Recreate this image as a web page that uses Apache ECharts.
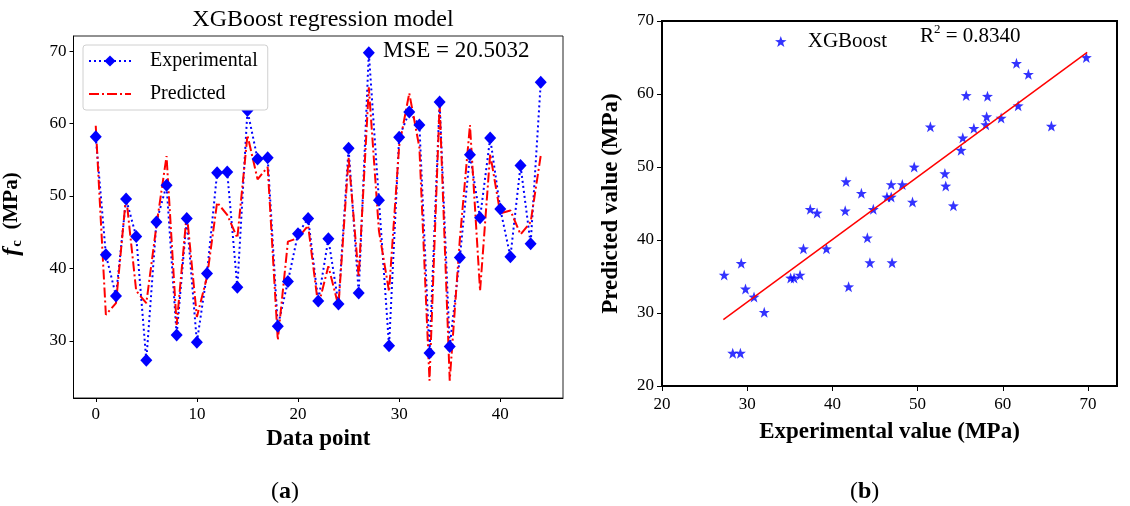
<!DOCTYPE html>
<html>
<head>
<meta charset="utf-8">
<script src="https://cdn.jsdelivr.net/npm/echarts@6/dist/echarts.min.js"></script>
<style>
	html, body { margin: 0; padding: 0; background: #fff; }
	#chart { width: 1130px; height: 506px; }
</style>
</head>
<body>
<div id="chart"></div>
<script>
// (a) 实测值 / 预测值，按数据点序号
var experimental = [58.2, 41.9, 36.2, 49.6, 44.4, 27.3, 46.4, 51.5, 30.8, 46.9,
	29.8, 39.3, 53.2, 53.3, 37.4, 61.8, 55.1, 55.3, 32.0, 38.2,
	44.8, 46.9, 35.5, 44.1, 35.1, 56.6, 36.6, 69.8, 49.4, 29.3,
	58.1, 61.6, 59.8, 28.3, 63.0, 29.2, 41.5, 55.7, 47.0, 58.0,
	48.2, 41.6, 54.2, 43.4, 65.7]
var predicted = [59.7, 33.6, 35.2, 50.0, 36.9, 35.2, 45.9, 55.5, 32.2, 47.6,
	33.3, 38.8, 49.1, 47.4, 44.2, 58.4, 52.3, 54.0, 30.1, 43.7,
	44.2, 45.9, 34.8, 40.3, 34.8, 55.3, 38.8, 65.0, 45.2, 36.8,
	56.9, 64.2, 56.7, 24.5, 62.7, 24.5, 44.0, 59.8, 36.9, 55.8,
	47.6, 48.0, 44.7, 46.4, 55.6]

// 刻度
var aTicksX = [0, 10, 20, 30, 40]
var aTicksY = [30, 40, 50, 60, 70]
var bTicks  = [20, 30, 40, 50, 60, 70]

// (b) 拟合直线端点
var fitLine = [[27.2, 29.1], [69.9, 65.7]]

var serif = 'Liberation Serif'
var star = 'path://M0,-10 L2.35,-3.24 L9.51,-3.09 L3.8,1.24 L5.88,8.09 L0,4 L-5.88,8.09 L-3.8,1.24 L-9.51,-3.09 L-2.35,-3.24 Z'

var expData  = experimental.map(function(v, i) { return [i, v] })
var predData = predicted.map(function(v, i) { return [i, v] })
var scatterData = experimental.map(function(v, i) { return [v, predicted[i]] })

var axisBase = {
	axisLine: { onZero: false, lineStyle: { color: '#000', width: 1 } },
	axisTick: { length: 4, lineStyle: { color: '#000' } },
	axisLabel: { color: '#000', fontFamily: serif, fontSize: 17 },
	splitLine: { show: false }
}
function ax(extra) {
	return echarts.util.merge(echarts.util.clone(axisBase), extra, true)
}
var nameFont = { fontFamily: serif, fontSize: 23, fontWeight: 'bold', color: '#000' }

var chart = echarts.init(document.getElementById('chart'), null, { renderer: 'canvas' })

var option = {
	animation: false,
	backgroundColor: '#fff',
	title: [{
		text: 'XGBoost regression model',
		left: 318, top: 3, textAlign: 'center',
		textStyle: { fontFamily: serif, fontSize: 24, fontWeight: 'normal', color: '#000' }
	}],
	legend: [{
		data: ['Experimental', { name: 'Predicted', itemStyle: { opacity: 0 } }],
		orient: 'vertical',
		left: 83, top: 45,
		padding: [6, 10, 6, 5],
		itemWidth: 42, itemHeight: 14, itemGap: 13,
		backgroundColor: '#fff',
		borderColor: '#d0d0d0', borderWidth: 1, borderRadius: 3,
		textStyle: { fontFamily: serif, fontSize: 20, color: '#000', padding: [0, 0, 0, 14] }
	}, {
		data: ['XGBoost'],
		left: 770, top: 26,
		itemWidth: 12, itemHeight: 11,
		icon: star,
		textStyle: { fontFamily: serif, fontSize: 21, color: '#000', padding: [0, 0, 0, 16] }
	}],
	grid: [
		{ left: 73.5, top: 36, width: 489.5, height: 362, show: true, borderColor: '#222', borderWidth: 1, backgroundColor: 'transparent' },
		{ left: 662, top: 21, width: 455, height: 365, show: true, borderColor: '#000', borderWidth: 2, backgroundColor: 'transparent' }
	],
	xAxis: [
		ax({
			gridIndex: 0, type: 'value', min: -2.2, max: 46.2,
			axisTick: { customValues: aTicksX },
			axisLabel: { customValues: aTicksX, margin: 8 },
			name: 'Data point', nameLocation: 'middle', nameGap: 30,
			nameTextStyle: echarts.util.extend({}, nameFont, { fontSize: 22 })
		}),
		ax({
			gridIndex: 1, type: 'value', min: 20, max: 73.4,
			axisLine: { lineStyle: { width: 2 } },
			axisTick: { customValues: bTicks, length: 5 },
			axisLabel: { customValues: bTicks, margin: 10 },
			name: 'Experimental value (MPa)', nameLocation: 'middle', nameGap: 35,
			nameTextStyle: nameFont
		})
	],
	yAxis: [
		ax({
			gridIndex: 0, type: 'value', min: 22.1, max: 72.1,
			axisTick: { customValues: aTicksY },
			axisLabel: { customValues: aTicksY, margin: 7 }
		}),
		ax({
			gridIndex: 1, type: 'value', min: 20, max: 70, interval: 10,
			axisLine: { lineStyle: { width: 2 } },
			axisTick: { length: 5 },
			axisLabel: { margin: 8 },
			name: 'Predicted value (MPa)', nameLocation: 'middle', nameGap: 39,
			nameTextStyle: nameFont
		})
	],
	graphic: [{
		// f_c (MPa)
		type: 'text',
		x: 12, y: 214, rotation: Math.PI / 2,
		style: {
			text: '{f|f}{c|c}{m|  (MPa)}',
			align: 'center', verticalAlign: 'middle',
			rich: {
				f: { fontFamily: serif, fontSize: 24, fontStyle: 'italic', fontWeight: 'bold', fill: '#000', lineHeight: 26, verticalAlign: 'middle' },
				c: { fontFamily: serif, fontSize: 15, fontWeight: 'bold', fill: '#000', lineHeight: 26, verticalAlign: 'bottom', padding: [0, 0, 0, 1] },
				m: { fontFamily: serif, fontSize: 21, fontWeight: 'bold', fill: '#000', lineHeight: 26, verticalAlign: 'middle' }
			}
		}
	}, {
		type: 'text',
		left: 383, top: 39,
		style: { text: 'MSE = 20.5032', fontFamily: serif, fontSize: 23, fill: '#000' }
	}, {
		type: 'text',
		left: 920, top: 23,
		style: {
			text: '{r|R}{s|2}{r| = 0.8340}',
			rich: {
				r: { fontFamily: serif, fontSize: 21, fill: '#000', lineHeight: 26, verticalAlign: 'middle' },
				s: { fontFamily: serif, fontSize: 13, fill: '#000', lineHeight: 26, verticalAlign: 'top' }
			}
		}
	}, {
		type: 'text',
		left: 271, top: 480,
		style: {
			text: '({b|a})',
			fontFamily: serif, fontSize: 24, fill: '#000',
			rich: { b: { fontFamily: serif, fontSize: 24, fontWeight: 'bold', fill: '#000' } }
		}
	}, {
		type: 'text',
		left: 850, top: 480,
		style: {
			text: '({b|b})',
			fontFamily: serif, fontSize: 24, fill: '#000',
			rich: { b: { fontFamily: serif, fontSize: 24, fontWeight: 'bold', fill: '#000' } }
		}
	}],
	series: [{
		name: 'Experimental',
		type: 'line',
		xAxisIndex: 0, yAxisIndex: 0,
		data: expData,
		symbol: 'diamond', symbolSize: [12, 13],
		itemStyle: { color: '#0000ff' },
		lineStyle: { color: '#0000ff', width: 2, type: [2, 3] }
	}, {
		name: 'Predicted',
		type: 'line',
		xAxisIndex: 0, yAxisIndex: 0,
		data: predData,
		symbol: 'none',
		itemStyle: { color: '#ff0000' },
		lineStyle: { color: '#ff0000', width: 2, type: [10, 3, 2, 3] }
	}, {
		name: 'XGBoost',
		type: 'scatter',
		xAxisIndex: 1, yAxisIndex: 1,
		data: scatterData,
		symbol: star, symbolSize: 11,
		itemStyle: { color: '#0000ff' }
	}, {
		name: 'fit',
		type: 'line',
		xAxisIndex: 1, yAxisIndex: 1,
		data: fitLine,
		symbol: 'none',
		lineStyle: { color: '#ff0000', width: 1.5 }
	}]
}

chart.setOption(option)
</script>
</body>
</html>
